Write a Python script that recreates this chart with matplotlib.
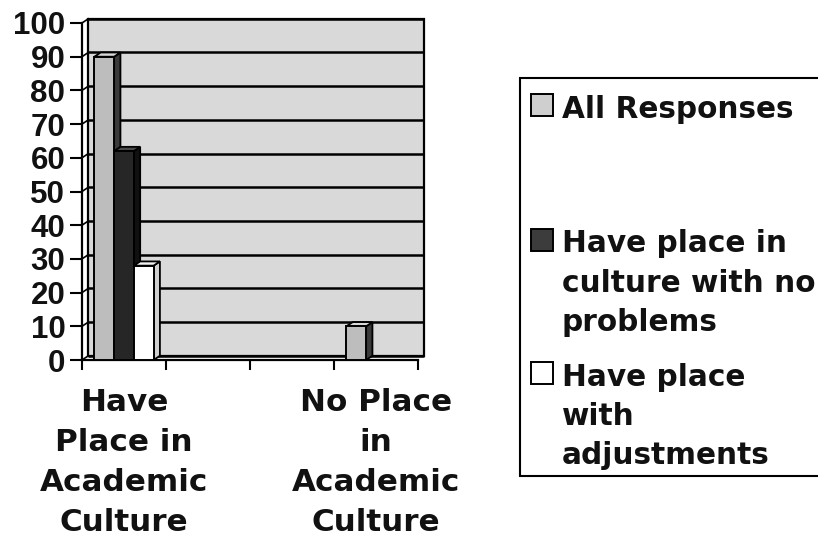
import matplotlib
matplotlib.use("Agg")
import matplotlib.pyplot as plt
from matplotlib.patches import Rectangle, Polygon

# ---------------- data ----------------
categories = ["Have\nPlace in\nAcademic\nCulture", "", "", "No Place\nin\nAcademic\nCulture"]
series_names = ["All Responses",
                "Have place in\nculture with no\nproblems",
                "Have place\nwith\nadjustments"]
all_responses = [90, 0, 0, 10]
no_problems = [62, 0, 0, 0]
with_adjustments = [28, 0, 0, 0]
y_ticks = [0, 10, 20, 30, 40, 50, 60, 70, 80, 90, 100]

series_values = [all_responses, no_problems, with_adjustments]
front_colors = ["#bdbdbd", "#262626", "#ffffff"]
side_colors = ["#3a3a3a", "#101010", "#d0d0d0"]
top_colors = ["#d8d8d8", "#4a4a4a", "#f2f2f2"]
handle_colors = ["#cfcfcf", "#3c3c3c", "#ffffff"]

plt.rcParams['font.family'] = ['DejaVu Sans']
FS = 22.3
LFS = 21.3
W, H = 818, 549
fig = plt.figure(figsize=(W / 100, H / 100), dpi=100)
fig.patch.set_facecolor("white")

def fx(px):
    return px / W

def fy(py):
    return 1 - py / H

ax = fig.add_axes([fx(82), fy(360), 336 / W, 337 / H])
ax.set_xlim(-0.5, len(categories) - 0.5)
ax.set_ylim(0, 100)
ax.patch.set_visible(False)

dx, dy = 0.075, 1.25   # 3-D depth offset in data units
bw = 0.235             # bar width

# back wall
ax.add_patch(Rectangle((-0.5 + dx, dy), len(categories), 100, facecolor="#d9d9d9",
                       edgecolor="black", lw=1.6, zorder=0.5, clip_on=False))
for v in y_ticks:
    ax.plot([-0.5 + dx, len(categories) - 0.5 + dx], [v + dy, v + dy], color="black",
            lw=1.8, zorder=1, clip_on=False, solid_capstyle="butt")
    ax.plot([-0.5, -0.5 + dx], [v, v + dy], color="black", lw=1.2, zorder=1, clip_on=False)

# bars with 3-D faces
z = 3
for i, vals in enumerate(series_values):
    xs = [j + (i - 1) * bw for j in range(len(categories))]
    for j, v in enumerate(vals):
        if v <= 0:
            continue
        x0 = xs[j] - bw / 2
        ax.add_patch(Polygon([(x0 + bw, 0), (x0 + bw + dx, dy), (x0 + bw + dx, v + dy), (x0 + bw, v)],
                             closed=True, facecolor=side_colors[i], edgecolor="black",
                             lw=1.3, zorder=z, clip_on=False))
        ax.add_patch(Polygon([(x0, v), (x0 + dx, v + dy), (x0 + bw + dx, v + dy), (x0 + bw, v)],
                             closed=True, facecolor=top_colors[i], edgecolor="black",
                             lw=1.3, zorder=z, clip_on=False))
        ax.bar([xs[j]], [v], width=bw, color=front_colors[i], edgecolor="black",
               lw=1.4, zorder=z + 0.5)
        z += 1

# axes / ticks
for s in ["top", "right"]:
    ax.spines[s].set_visible(False)
ax.spines["left"].set_linewidth(1.6)
ax.spines["bottom"].set_linewidth(1.6)
ax.set_yticks(y_ticks)
ax.set_yticklabels([str(t) for t in y_ticks], fontsize=22.5, fontweight="bold",
                   color="#111111", family=["Liberation Sans", "DejaVu Sans"])
ax.tick_params(axis="y", direction="out", length=9, width=1.5, pad=3)
ax.set_xticks([k - 0.5 for k in range(len(categories) + 1)])
ax.set_xticklabels([])
ax.tick_params(axis="x", which="major", direction="out", length=7, width=1.5)
ax.set_xticks(range(len(categories)), minor=True)
ax.set_xticklabels(categories, minor=True, fontsize=FS, fontweight="bold",
                   color="#111111", linespacing=1.48)
ax.tick_params(axis="x", which="minor", length=0, pad=20)

# legend (drawn manually, Excel style)
fig.patches.append(Rectangle((fx(520), fy(476)), fx(830) - fx(520), fy(78) - fy(476),
                             transform=fig.transFigure, facecolor="white",
                             edgecolor="black", lw=1.5, zorder=1))
baselines = [117, 252, 385]
for name, col, b in zip(series_names, handle_colors, baselines):
    fig.patches.append(Rectangle((fx(531), fy(b - 1)), 22 / W, 22 / H, transform=fig.transFigure,
                                 facecolor=col, edgecolor="black", lw=1.4, zorder=2))
    fig.text(fx(562), fy(b - 22.5), name, fontsize=LFS, fontweight="bold", color="#111111",
             va="top", ha="left", linespacing=1.45, zorder=3)

fig.savefig("out.png", dpi=100)
